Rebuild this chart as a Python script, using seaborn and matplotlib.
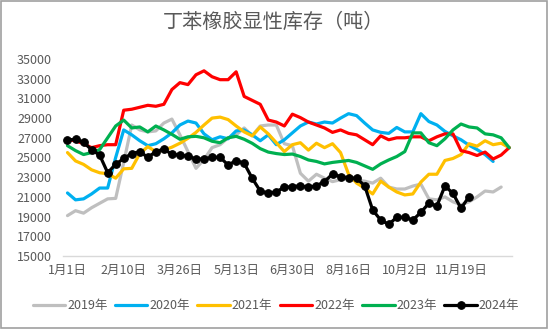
import numpy as np
import pandas as pd
import matplotlib
matplotlib.use("Agg")
import matplotlib.pyplot as plt
import seaborn as sns
from matplotlib.patches import Rectangle

# ---------------- data ----------------
title = "丁苯橡胶显性库存（吨）"
tick_labels = ["1月1日", "2月10日", "3月26日", "5月13日", "6月30日", "8月16日", "10月2日", "11月19日"]
n_categories = 56
label_every = 7

years = ["2019年", "2020年", "2021年", "2022年", "2023年", "2024年"]

y2019 = [19100, 19600, 19350, 19900, 20350, 20800, 20850, 24500, 28300, 27800,
         27600, 27700, 28500, 28900, 27300, 25600, 23900, 24800, 26000, 26300,
         27000, 27300, 28000, 27200, 28200, 28300, 28300, 26400, 26200, 23400,
         22600, 23300, 22900, 22550, 22750, 23050, 22700, 22600, 22400, 22900,
         22000, 21800, 21800, 22100, 22300, 20800, 20700, 21000, 20500, 20200,
         20500, 21000, 21600, 21500, 22000]
y2020 = [21400, 20700, 20800, 21300, 21900, 21900, 25000, 27800, 27300, 26700,
         26200, 26400, 26900, 27500, 28300, 28700, 28500, 27400, 26800, 27100,
         26900, 27700, 27800, 27300, 26700, 27300, 26300, 26800, 27500, 28200,
         28600, 28400, 28600, 28500, 29000, 29450, 29250, 28500, 27800, 27550,
         27450, 28050, 27600, 27600, 29450, 28650, 28300, 27650, 27200, 26800,
         26250, 25800, 25300, 24600]
y2021 = [25500, 24650, 24300, 23750, 23450, 23350, 22900, 23850, 23900, 25400,
         26100, 25600, 25750, 26050, 26450, 26950, 27550, 28300, 29000, 29100,
         28850, 28200, 27600, 27200, 28100, 27400, 26500, 25600, 26300, 26500,
         25750, 26450, 26000, 26400, 25500, 23300, 22400, 21900, 21300, 22600,
         22000, 21500, 21200, 21300, 22500, 23300, 23300, 24700, 24900, 25300,
         26400, 26150, 26700, 26300, 26450, 26000]
y2022 = [26800, 26700, 26400, 26000, 26200, 26300, 26300, 29800, 29900, 30100,
         30300, 30200, 30400, 31900, 32600, 32400, 33400, 33800, 33200, 32900,
         32900, 33700, 31200, 30800, 30400, 28800, 28600, 28200, 29400, 29050,
         28600, 28300, 28000, 27550, 27800, 27450, 27300, 26800, 26300, 27200,
         26800, 27000, 27000, 27100, 27100, 26700, 27100, 27400, 27400, 25700,
         25500, 25200, 25550, 24850, 25250, 26000]
y2023 = [26200, 25700, 25300, 25500, 25800, 27000, 28200, 28800, 28000, 28100,
         27600, 28200, 27800, 27350, 26850, 27100, 27150, 27000, 26650, 26500,
         27000, 27150, 26850, 26440, 25900, 25550, 25400, 25300, 25350, 25100,
         24750, 24600, 24350, 24500, 24600, 24700, 24500, 24150, 23800, 24350,
         24750, 25100, 25600, 27500, 27500, 26500, 26200, 26900, 27800, 28400,
         28100, 28000, 27400, 27300, 27000, 26000]
y2024 = [26780, 26850, 26550, 25780, 25250, 23460, 24300, 24900, 25400, 25590,
         25020, 25590, 25860, 25320, 25250, 25120, 24850, 24850, 25020, 25020,
         24240, 24680, 24410, 22890, 21600, 21360, 21530, 21970, 22040, 22140,
         21970, 22140, 22550, 23330, 23050, 22950, 22890, 22140, 19670, 18650,
         18210, 18930, 18930, 18650, 19430, 20350, 20080, 22110, 21360, 19840,
         21020]

series = [y2019, y2020, y2021, y2022, y2023, y2024]
colors = ["#BFBFBF", "#00B0F0", "#FFC000", "#FF0000", "#00B050", "#000000"]

rows = []
for name, vals in zip(years, series):
    for i, v in enumerate(vals):
        rows.append({"idx": i, "value": v, "year": name})
df = pd.DataFrame(rows)

# ---------------- style ----------------
sns.set_style("white")
plt.rcParams["font.family"] = ["Noto Sans CJK SC", "DejaVu Sans"]

fig = plt.figure(figsize=(5.48, 3.29), dpi=100)
ax = fig.add_axes([63 / 548, 1 - 256 / 329, (512 - 63) / 548, (256 - 59) / 329])

for name, col in zip(years, colors):
    sub = df[df["year"] == name]
    is_last = name == "2024年"
    sns.lineplot(data=sub, x="idx", y="value", ax=ax, color=col, linewidth=2.3,
                 marker="o" if is_last else None, markersize=5.5,
                 markeredgecolor=col, label=name, zorder=3)

ax.set_xlim(-0.56, 55.35)
ax.set_ylim(15000, 35000)
ax.set_yticks(np.arange(15000, 35001, 2000))
ax.set_yticklabels([str(v) for v in range(15000, 35001, 2000)])
ax.set_xticks(np.arange(0, n_categories, label_every)[:len(tick_labels)])
ax.set_xticklabels(tick_labels)
ax.set_xlabel("")
ax.set_ylabel("")

for s in ["top", "right", "left"]:
    ax.spines[s].set_visible(False)
ax.spines["bottom"].set_color("#D9D9D9")
ax.spines["bottom"].set_linewidth(1.0)
ax.tick_params(axis="both", length=0, labelsize=9, colors="#595959")
ax.tick_params(axis="y", pad=8)
ax.tick_params(axis="x", pad=6)
ax.grid(False)

fig.text(0.5, 1 - 22 / 329, title, ha="center", va="center", fontsize=14.5, color="#595959")

ax.legend_.remove() if ax.legend_ else None
handles, labels = ax.get_legend_handles_labels()
fig.legend(handles, labels, loc="center", bbox_to_anchor=(276 / 548, 1 - 306 / 329),
           ncol=6, frameon=False, fontsize=9, handlelength=2.6, handletextpad=0.15,
           columnspacing=0.6, labelcolor="#595959")

fig.patches.append(Rectangle((0.001, 0.002), 0.997, 0.995, transform=fig.transFigure,
                             fill=False, edgecolor="#A0A0A0", linewidth=1.2))

fig.savefig("out.png", dpi=100, facecolor="white")
